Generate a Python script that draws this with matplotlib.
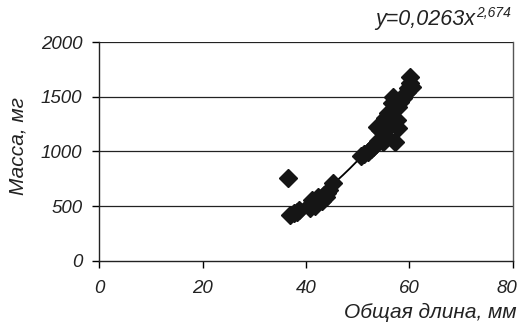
import numpy as np
import matplotlib
matplotlib.use("Agg")
import matplotlib.pyplot as plt
from matplotlib.transforms import ScaledTranslation

plt.rcParams['font.family'] = ['Liberation Sans', 'DejaVu Sans']

length_mm = [36.5, 37.0, 37.6, 38.2, 38.6,
             40.5, 40.8, 41.0, 41.2, 41.5, 41.8, 42.0, 42.3, 42.5, 43.0, 43.5, 43.8, 44.0, 44.5, 45.2,
             50.6, 51.3, 52.0, 52.5, 53.0, 53.5, 53.7, 54.0, 54.3, 54.9, 55.3, 55.6, 55.8, 56.2,
             56.6, 56.8, 57.2, 57.6, 57.8, 57.8, 58.2, 58.7, 59.5, 59.8, 60.1, 60.1, 60.5]
mass_mg = [760, 420, 435, 450, 465,
           500, 480, 520, 560, 540, 500, 530, 580, 560, 550, 600, 580, 620, 650, 710,
           955, 975, 995, 1020, 1040, 1070, 1224, 1100, 1196, 1087, 1306, 1132, 1350, 1242,
           1443, 1500, 1087, 1288, 1406, 1215, 1450, 1490, 1543, 1580, 1625, 1680, 1590]

coef_a = 0.0263
coef_b = 2.674

x_ticks = [0, 20, 40, 60, 80]
y_ticks = [0, 500, 1000, 1500, 2000]

fig = plt.figure(figsize=(5.19, 3.31), dpi=100)
ax = fig.add_axes([0.1908, 0.2115, 0.7976, 0.6616])

xf = np.linspace(min(length_mm), max(length_mm), 200)
ax.plot(xf, coef_a * xf ** coef_b, color='black', lw=1.3, zorder=2)
ax.plot(length_mm, mass_mg, linestyle='none', marker='D', markersize=9,
        color='#151515', markeredgecolor='#151515', zorder=3)

ax.set_xlim(0, 80)
ax.set_ylim(0, 2000)
ax.set_xticks(x_ticks)
ax.set_yticks(y_ticks)
ax.set_xticklabels([str(v) for v in x_ticks], style='italic', fontsize=13.5)
ax.set_yticklabels([str(v) for v in y_ticks], style='italic', fontsize=13.5)
ax.tick_params(axis='both', direction='out', length=5, width=1, color='black', colors='#222222')
ax.tick_params(axis='x', pad=9)
ax.tick_params(axis='y', pad=7)

lbls = ax.get_xticklabels()
lbls[-1].set_transform(lbls[-1].get_transform() + ScaledTranslation(-6/100, 0, fig.dpi_scale_trans))

for yv in [500, 1000, 1500, 2000]:
    ax.axhline(yv, color='#222222', lw=0.9, zorder=1)

for s in ['left', 'bottom']:
    ax.spines[s].set_color('#222222')
    ax.spines[s].set_linewidth(1.0)
ax.spines['top'].set_visible(False)
ax.spines['right'].set_color('#555555')
ax.spines['right'].set_linewidth(1.0)

fig.text(0.035, 0.56, 'Масса, мг', rotation=90, style='italic',
         fontsize=15, ha='center', va='center', color='#222222')
fig.text(0.996, 0.04, 'Общая длина, мм', style='italic', fontsize=15,
         ha='right', va='baseline', color='#222222')

# equation: base text + italic superscript
sup = fig.text(0.984, 0.925 + 8/331, '2,674', style='italic', fontsize=10,
               ha='right', va='baseline', color='#222222')
fig.canvas.draw()
sup_bb = sup.get_window_extent()
base_x = (sup_bb.x0 - 1) / fig.bbox.width
fig.text(base_x, 0.925, 'y=0,0263x', style='italic', fontsize=15.5,
         ha='right', va='baseline', color='#222222')

fig.savefig('out.png', dpi=100)
